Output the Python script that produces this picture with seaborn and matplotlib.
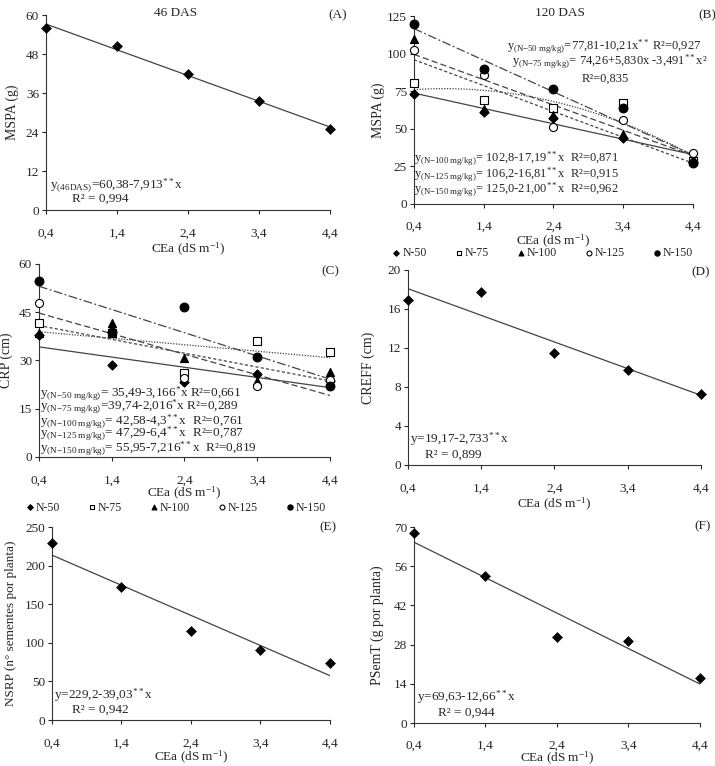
import numpy as np
import pandas as pd
import matplotlib
matplotlib.use("Agg")
import matplotlib.pyplot as plt
import seaborn as sns

# x levels (water salinity)
cea = [0.4, 1.4, 2.4, 3.4, 4.4]
cea_labels = ["0,4", "1,4", "2,4", "3,4", "4,4"]
doses = ["N-50", "N-75", "N-100", "N-125", "N-150"]

# (A) MSPA 46 DAS
mspa46 = [56.1, 50.5, 42.0, 33.6, 24.8]
fit_a = [60.38, -7.913]

# (B) MSPA 120 DAS, one list per N dose
mspa120_n50 = [72.9, 61.0, 57.0, 43.7, 28.0]
mspa120_n75 = [80.2, 69.0, 64.0, 67.0, 28.5]
mspa120_n100 = [109.5, 63.0, 59.0, 46.5, 30.0]
mspa120_n125 = [102.4, 86.0, 51.4, 55.9, 34.0]
mspa120_n150 = [119.5, 89.5, 76.2, 63.6, 27.0]
fit_b = [(77.81, -10.21, 0.0), (74.26, 5.830, -3.491), (102.8, -17.19, 0.0),
         (106.2, -16.81, 0.0), (125.0, -21.00, 0.0)]

# (C) CRP
crp_n50 = [38.0, 28.6, 23.2, 25.9, 23.5]
crp_n75 = [41.5, 38.4, 26.0, 36.1, 32.6]
crp_n100 = [38.4, 41.7, 30.8, 23.5, 26.4]
crp_n125 = [47.8, 38.5, 24.6, 22.2, 24.0]
crp_n150 = [54.6, 39.0, 46.7, 31.1, 22.2]
fit_c = [(35.49, -3.166), (39.74, -2.016), (42.58, -4.3), (47.29, -6.4), (55.95, -7.216)]

# (D) CREFF, (E) NSRP, (F) PSemT
creff = [16.9, 17.7, 11.5, 9.7, 7.25]
fit_d = [19.17, -2.733]
nsrp = [229.0, 172.0, 115.0, 90.5, 74.0]
fit_e = [229.2, -39.03]
psemt = [68.0, 52.4, 30.7, 29.2, 16.1]
fit_f = [69.63, -12.66]

sns.set_style("ticks")
plt.rcParams["font.family"] = ["Liberation Serif", "DejaVu Serif"]
plt.rcParams["mathtext.fontset"] = "custom"
plt.rcParams["mathtext.rm"] = "Liberation Serif"
plt.rcParams["mathtext.it"] = "Liberation Serif:italic"
plt.rcParams["font.size"] = 9

LINE = "#444444"
markers = {"N-50": "D", "N-75": "s", "N-100": "^", "N-125": "o", "N-150": "o"}
faces = {"N-50": "black", "N-75": "white", "N-100": "black", "N-125": "white", "N-150": "black"}
sizes = {"N-50": 22, "N-75": 34, "N-100": 34, "N-125": 34, "N-150": 40}
dashes = {"N-50": "-", "N-75": (0, (1, 1.2)), "N-100": (0, (2.5, 1.8)),
          "N-125": (0, (5, 2.5)), "N-150": (0, (7, 2, 1.5, 2))}


def sub(s):
    s = s.replace(" ", r"\ ").replace("-", "{-}")
    return r"$_{\mathregular{" + s + "}}$"


STARS = r"$^{**}$"
XLABEL = r"CEa (dS m$^{-1}$)"


def setup(ax, ymax, ystep, ylabel, ylab_x, xlab_y, ylab_size=10, xpad=10):
    ax.set_xlim(0.4, 4.4)
    ax.set_ylim(0, ymax)
    ax.set_xticks(cea)
    ax.set_xticklabels(cea_labels)
    ax.set_yticks(np.arange(0, ymax + 0.1, ystep))
    sns.despine(ax=ax)
    for sp in ["left", "bottom"]:
        ax.spines[sp].set_linewidth(0.8)
        ax.spines[sp].set_color("#333333")
    ax.tick_params(axis="x", length=3, width=0.8, pad=xpad, labelsize=9.5)
    ax.tick_params(axis="y", length=3, width=0.8, pad=2, labelsize=9.5)
    ax.set_ylabel(ylabel, fontsize=ylab_size)
    ax.set_xlabel(XLABEL, fontsize=9.5)
    ax.yaxis.set_label_coords(ylab_x, 0.5)
    ax.xaxis.set_label_coords(0.5, xlab_y)


def single(ax, y, fit):
    df = pd.DataFrame({"CEa": cea, "y": y})
    df["fit"] = fit[0] + fit[1] * df["CEa"]
    sns.lineplot(data=df, x="CEa", y="fit", color=LINE, linewidth=0.9, ax=ax)
    sns.scatterplot(data=df, x="CEa", y="y", marker="D", color="black", s=26,
                    edgecolor="black", clip_on=False, zorder=3, ax=ax)


def multi(ax, series, fits, legend_xy):
    xg = np.linspace(0.4, 4.4, 60)
    for dose, y, f in zip(doses, series, fits):
        b2 = f[2] if len(f) > 2 else 0.0
        fy = f[0] + f[1] * xg + b2 * xg ** 2
        sns.lineplot(x=xg, y=fy, color=LINE, linewidth=0.9, linestyle=dashes[dose], ax=ax)
    for dose, y in zip(doses, series):
        sns.scatterplot(x=cea, y=y, marker=markers[dose], s=sizes[dose],
                        facecolor=faces[dose], edgecolor="black", linewidth=0.8,
                        clip_on=False, zorder=3, label=dose, ax=ax)
    ax.legend(loc="center", bbox_to_anchor=legend_xy, ncol=5, frameon=False,
              handletextpad=0.1, handlelength=0.8, columnspacing=2.3, markerscale=0.6,
              fontsize=8.5, borderpad=0, borderaxespad=0)


fig = plt.figure(figsize=(7.15, 7.66), dpi=100)

# (A)
ax = fig.add_axes([0.0643, 0.7258, 0.397, 0.2546])
single(ax, mspa46, fit_a)
setup(ax, 60, 12, "MSPA (g)", -0.095, -0.159)
ax.text(2.22, 60.7, "46 DAS", ha="center", va="center", fontsize=9.5)
ax.text(4.51, 60, "(A)", ha="center", va="center", fontsize=9.5)
ax.text(0.46, 7.7, "y" + sub("(46DAS)") + "=60,38-7,913" + STARS + "x", va="center", fontsize=9.5)
ax.text(0.76, 3.4, "R² = 0,994", va="center", fontsize=9.5)

# (B)
ax = fig.add_axes([0.579, 0.7337, 0.390, 0.2454])
multi(ax, [mspa120_n50, mspa120_n75, mspa120_n100, mspa120_n125, mspa120_n150],
      fit_b, (0.46, -0.26))
setup(ax, 125, 25, "MSPA (g)", -0.104, -0.152, xpad=9)
ax.text(2.49, 127.2, "120 DAS", ha="center", va="center", fontsize=9.5)
ax.text(4.61, 125.7, "(B)", ha="center", va="center", fontsize=9.5, clip_on=False)
bsize = 9
ax.text(1.73, 104.4, "y" + sub("(N-50 mg/kg)") + "=77,81-10,21x" + STARS + " R²=0,927",
        va="center", fontsize=bsize)
ax.text(1.80, 94.6, "y" + sub("(N-75 mg/kg)") + "= 74,26+5,830x -3,491" + STARS + "x²",
        va="center", fontsize=bsize)
ax.text(2.80, 83.1, "R²=0,835", va="center", fontsize=bsize)
ax.text(0.40, 29.7, "y" + sub("(N-100 mg/kg)") + "= 102,8-17,19" + STARS + "x  R²=0,871",
        va="center", fontsize=bsize)
ax.text(0.40, 19.7, "y" + sub("(N-125 mg/kg)") + "= 106,2-16,81" + STARS + "x  R²=0,915",
        va="center", fontsize=bsize)
ax.text(0.40, 9.3, "y" + sub("(N-150 mg/kg)") + "= 125,0-21,00" + STARS + "x  R²=0,962",
        va="center", fontsize=bsize)

# (C)
ax = fig.add_axes([0.0545, 0.4034, 0.407, 0.252])
multi(ax, [crp_n50, crp_n75, crp_n100, crp_n125, crp_n150], fit_c, (0.47, -0.262))
setup(ax, 60, 15, "CRP (cm)", -0.089, -0.146)
ax.text(4.4, 57.8, "(C)", ha="center", va="center", fontsize=9.5)
c_eqs = ["y" + sub("(N-50 mg/kg)") + "= 35,49-3,166$^{*}$x R²=0,661",
         "y" + sub("(N-75 mg/kg)") + "=39,74-2,016$^{*}$x R²=0,289",
         "y" + sub("(N-100 mg/kg)") + "= 42,58-4,3" + STARS + "x  R²=0,761",
         "y" + sub("(N-125 mg/kg)") + "= 47,29-6,4" + STARS + "x  R²=0,787",
         "y" + sub("(N-150 mg/kg)") + "= 55,95-7,216" + STARS + "x  R²=0,819"]
for txt, yy in zip(c_eqs, [19.6, 15.5, 10.9, 7.2, 2.5]):
    ax.text(0.42, yy, txt, va="center", fontsize=9.5)

# (D)
ax = fig.add_axes([0.5706, 0.3930, 0.4098, 0.2546])
single(ax, creff, fit_d)
setup(ax, 20, 4, "CREFF (cm)", -0.113, -0.159)
ax.text(4.39, 19.8, "(D)", ha="center", va="center", fontsize=9.5)
ax.text(0.43, 2.67, "y=19,17-2,733" + STARS + "x", va="center", fontsize=9.5)
ax.text(0.63, 1.03, "R² = 0,899", va="center", fontsize=9.5)

# (E)
ax = fig.add_axes([0.0727, 0.060, 0.3888, 0.252])
single(ax, nsrp, fit_e)
setup(ax, 250, 50, "NSRP (n° sementes por planta)", -0.126, -0.152, ylab_size=9.5)
ax.text(4.37, 250, "(E)", ha="center", va="center", fontsize=9.5)
ax.text(0.43, 32.4, "y=229,2-39,03" + STARS + "x", va="center", fontsize=9.5)
ax.text(0.69, 13, "R² = 0,942", va="center", fontsize=9.5)

# (F)
ax = fig.add_axes([0.579, 0.0561, 0.400, 0.2559])
single(ax, psemt, fit_f)
setup(ax, 70, 14, "PSemT (g por planta)", -0.105, -0.138, xpad=9)
ax.text(4.43, 70.4, "(F)", ha="center", va="center", fontsize=9.5, clip_on=False)
ax.text(0.44, 9.4, "y=69,63-12,66" + STARS + "x", va="center", fontsize=9.5)
ax.text(0.74, 3.7, "R² = 0,944", va="center", fontsize=9.5)

fig.savefig("out.png", dpi=100)
